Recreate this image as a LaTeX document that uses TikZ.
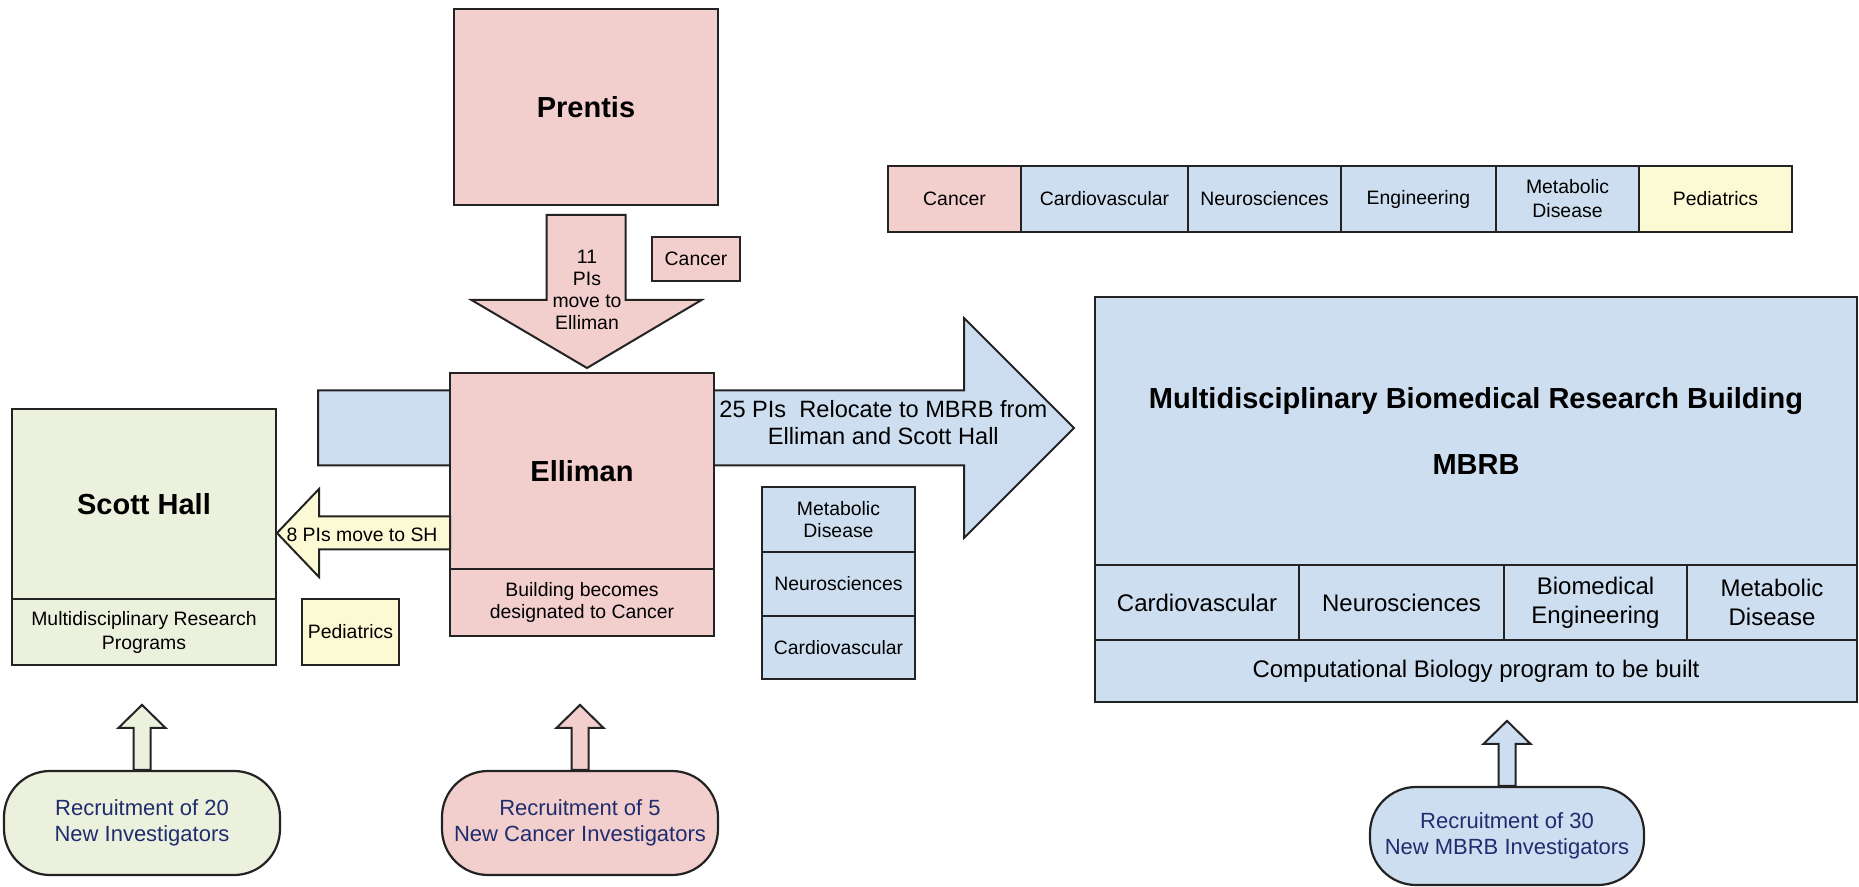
\documentclass[tikz,border=0pt]{standalone}
\usepackage{fontspec}
\setmainfont{Liberation Sans}
\usepackage{tikz}
\usetikzlibrary{positioning,calc,backgrounds}

\definecolor{pinkbox}{RGB}{242,206,205}
\definecolor{bluebox}{RGB}{206,222,241}
\definecolor{greenbox}{RGB}{236,241,222}
\definecolor{yellowbox}{RGB}{252,250,212}
\definecolor{edge}{RGB}{35,35,35}
\definecolor{navy}{RGB}{31,45,110}

\newcommand{\titlefont}{\fontsize{14.5}{17}\selectfont\bfseries}
\newcommand{\tagfont}{\fontsize{9.7}{11}\selectfont}
\newcommand{\tagfontwide}{\fontsize{9.7}{12}\selectfont}
\newcommand{\rowfont}{\fontsize{12}{14.5}\selectfont}
\newcommand{\arrowfont}{\fontsize{11.8}{13.5}\selectfont}
\newcommand{\ovalfont}{\fontsize{11}{13}\selectfont}

\tikzset{
  bldg/.style={draw=edge, line width=1.1pt, outer sep=0pt, inner sep=1pt, align=center},
  oval/.style={draw=edge, line width=1.1pt, rounded corners=23pt, align=center, text=navy, font=\ovalfont},
  flow/.style={draw=edge, line width=1pt, line join=miter},
}

\begin{document}
\begin{tikzpicture}[x=0.5pt, y=-0.5pt]
    \useasboundingbox (0,0) rectangle (1859,887);

    % buildings
    \node[bldg, fill=pinkbox, minimum width=132pt, minimum height=98pt, font=\titlefont] (prentis) at (586,107) {Prentis};
    \node[bldg, fill=pinkbox, minimum width=44pt, minimum height=22pt, font=\tagfont] (cancertag) at (696,259) {Cancer};

    \node[bldg, fill=pinkbox, minimum width=132pt, minimum height=98pt, font=\titlefont] (elliman) at (582,471) {Elliman};
    \node[bldg, fill=pinkbox, minimum width=132pt, minimum height=33.5pt, font=\tagfont, below=0pt of elliman] (ellimansub) {Building becomes\\designated to Cancer};

    \node[bldg, fill=greenbox, minimum width=132pt, minimum height=95pt, font=\titlefont] (scott) at (144,504) {Scott Hall};
    \node[bldg, fill=greenbox, minimum width=132pt, minimum height=33pt, font=\tagfontwide, below=0pt of scott] (scottsub) {Multidisciplinary Research\\Programs};
    \node[bldg, fill=yellowbox, minimum width=48.5pt, minimum height=33pt, font=\tagfont] (pedtag) at (350.5,632) {Pediatrics};

    \node[bldg, fill=bluebox, minimum width=76.5pt, minimum height=32.5pt, font=\tagfont] (metab) at (838.5,519.5) {Metabolic\\Disease};
    \node[bldg, fill=bluebox, minimum width=76.5pt, minimum height=32pt, font=\tagfont, below=0pt of metab] (neuro) {Neurosciences};
    \node[bldg, fill=bluebox, minimum width=76.5pt, minimum height=31.5pt, font=\tagfont, below=0pt of neuro] (cardio) {Cardiovascular};

    % legend
    \node[bldg, fill=pinkbox, minimum width=66.5pt, minimum height=33pt, font=\tagfont, anchor=west] (lcancer) at (888,199) {Cancer};
    \node[bldg, fill=bluebox, minimum width=83.5pt, minimum height=33pt, font=\tagfont, right=0pt of lcancer] (lcardio) {Cardiovascular};
    \node[bldg, fill=bluebox, minimum width=76.5pt, minimum height=33pt, font=\tagfont, right=0pt of lcardio] (lneuro) {Neurosciences};
    \node[bldg, fill=bluebox, minimum width=77.5pt, minimum height=33pt, font=\tagfont, right=0pt of lneuro] (leng) {Engineering};
    \node[bldg, fill=bluebox, minimum width=71.5pt, minimum height=33pt, font=\tagfontwide, right=0pt of leng] (lmetab) {Metabolic\\Disease};
    \node[bldg, fill=yellowbox, minimum width=76.5pt, minimum height=33pt, font=\tagfont, right=0pt of lmetab] (lped) {Pediatrics};

    % MBRB
    \node[bldg, fill=bluebox, minimum width=381pt, minimum height=134pt, font=\titlefont] (mbrb) at (1476,431) {Multidisciplinary Biomedical Research Building\\[16pt]MBRB};
    \node[bldg, fill=bluebox, minimum width=102pt, minimum height=37.5pt, font=\rowfont, below right=0pt of mbrb.south west] (mcardio) {Cardiovascular};
    \node[bldg, fill=bluebox, minimum width=102.5pt, minimum height=37.5pt, font=\rowfont, right=0pt of mcardio] (mneuro) {Neurosciences};
    \node[bldg, fill=bluebox, minimum width=91.5pt, minimum height=37.5pt, font=\rowfont, right=0pt of mneuro] (mbioeng) {Biomedical\\Engineering};
    \node[bldg, fill=bluebox, minimum width=85pt, minimum height=37.5pt, font=\rowfont, right=0pt of mbioeng] (mmetab) {Metabolic\\Disease};
    \node[bldg, fill=bluebox, minimum width=381pt, minimum height=31pt, font=\rowfont, below right=0pt of mcardio.south west] (mcomp) {Computational Biology program to be built};

    % recruitment
    \node[oval, fill=greenbox, minimum width=138pt, minimum height=52pt] (rscott) at (142,823) {Recruitment of 20\\New Investigators};
    \node[oval, fill=pinkbox, minimum width=138pt, minimum height=52pt] (rcancer) at (580,823) {Recruitment of 5\\New Cancer Investigators};
    \node[oval, fill=bluebox, minimum width=137pt, minimum height=49pt] (rmbrb) at (1507,836) {Recruitment of 30\\New MBRB Investigators};

    % moves
    \coordinate (tip25) at ($(mbrb.west)+(-21,-3)$);
    \begin{scope}[on background layer]
        \draw[flow, fill=bluebox] ($(elliman.west |- tip25)+(-132,-37.5)$) -- ($(tip25)+(-110,-37.5)$) -- ($(tip25)+(-110,-110)$)
        -- (tip25) -- ($(tip25)+(-110,110)$) -- ($(tip25)+(-110,37.5)$) -- ($(elliman.west |- tip25)+(-132,37.5)$) -- cycle;
    \end{scope}
    \node[font=\arrowfont, align=center, anchor=west, inner sep=1pt] (move25) at ($(elliman.east |- tip25)+(3,-5)$) {25 PIs\ \ Relocate to MBRB from\\Elliman and Scott Hall};

    \draw[flow, fill=pinkbox] ($(prentis.south)+(-39.5,10)$) -- ++(0,85) -- ++(-75,0) -- ($(elliman.north)+(5,-5)$)
    -- ($(prentis.south)+(115.5,95)$) -- ++(-76,0) -- ++(0,-85) -- cycle;
    \node[font=\tagfont, align=center, inner sep=0pt] (move11) at ($(prentis.south)+(1,84.5)$) {11\\PIs\\move to\\Elliman};

    \coordinate (tip8) at ($(scott.east)+(1,29)$);
    \draw[flow, fill=yellowbox] (elliman.west |- 0,516.5) -- ($(tip8)+(42,-16.5)$) -- ($(tip8)+(42,-44)$) -- (tip8)
    -- ($(tip8)+(42,44)$) -- ($(tip8)+(42,16.5)$) -- (elliman.west |- 0,549.5) -- cycle;
    \node[font=\tagfont, inner sep=0pt] (move8) at ($(tip8)+(85,2)$) {8 PIs move to SH};

    \draw[flow, fill=greenbox] ($(rscott.north)+(-8.5,0)$) -- ++(0,-42) -- ++(-15,0) -- ($(rscott.north)+(0,-65)$)
    -- ($(rscott.north)+(23.5,-42)$) -- ++(-15,0) -- ++(0,42) -- cycle;
    \draw[flow, fill=pinkbox] ($(rcancer.north)+(-8.5,0)$) -- ++(0,-42) -- ++(-15,0) -- ($(rcancer.north)+(0,-65)$)
    -- ($(rcancer.north)+(23.5,-42)$) -- ++(-15,0) -- ++(0,42) -- cycle;
    \draw[flow, fill=bluebox] ($(rmbrb.north)+(-8.5,0)$) -- ++(0,-42) -- ++(-15,0) -- ($(rmbrb.north)+(0,-65)$)
    -- ($(rmbrb.north)+(23.5,-42)$) -- ++(-15,0) -- ++(0,42) -- cycle;
\end{tikzpicture}
\end{document}
